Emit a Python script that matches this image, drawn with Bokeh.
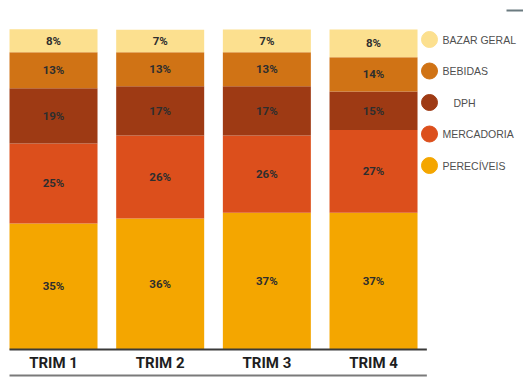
from bokeh.plotting import figure
from bokeh.models import ColumnDataSource, Range1d, BoxAnnotation
from bokeh.core.properties import value
from bokeh.embed import file_html
from bokeh.resources import INLINE

# ---------------- data ----------------
quarters = ["TRIM 1", "TRIM 2", "TRIM 3", "TRIM 4"]
# series, bottom to top
series = ["PERECÍVEIS", "MERCADORIA", "DPH", "BEBIDAS", "BAZAR GERAL"]

# printed percentages
perec_pct = [35, 36, 37, 37]
merc_pct = [25, 26, 26, 27]
dph_pct = [19, 17, 17, 15]
beb_pct = [13, 13, 13, 14]
bazar_pct = [8, 7, 7, 8]

# drawn segment heights (share of the bar, %)
perec_h = [39.4, 40.9, 42.7, 42.7]
merc_h = [25.0, 26.0, 24.2, 25.9]
dph_h = [17.2, 15.4, 15.4, 12.0]
beb_h = [11.3, 10.6, 10.6, 10.7]
bazar_h = [7.2, 7.0, 7.1, 8.7]

colors = ["#F4A600", "#DC4F1C", "#9E3A14", "#D07315", "#FCE08F"]

# ---------------- layout helpers (pixels -> data) ----------------
W, H = 523, 384
X0, X1 = 0.503, 5.406
Y0, Y1 = -10.94, 109.06


def px_x(px):
    return X0 + px * (X1 - X0) / W


def px_y(py):
    return Y1 - py * (Y1 - Y0) / H


# ---------------- build ----------------
heights = [perec_h, merc_h, dph_h, beb_h, bazar_h]
pcts = [perec_pct, merc_pct, dph_pct, beb_pct, bazar_pct]
keys = ["s%d" % i for i in range(len(series))]
xs = [i + 1 for i in range(len(quarters))]

data = {"x": xs}
for k, h in zip(keys, heights):
    data[k] = h
src = ColumnDataSource(data)

FONT = "Roboto"

p = figure(width=W, height=H,
           x_range=Range1d(X0, X1), y_range=Range1d(Y0, Y1),
           output_backend="svg", toolbar_location=None,
           min_border=0, min_border_left=0, min_border_right=0,
           min_border_top=0, min_border_bottom=0,
           outline_line_color=None, background_fill_color="white",
           border_fill_color="white")
p.axis.visible = False
p.grid.visible = False

bar_w = 0.825
p.vbar_stack(keys, x="x", width=bar_w, source=src,
             fill_color=colors, line_color=None)

# value labels centred in each segment
lx, ly, lt = [], [], []
base = [0.0] * len(quarters)
for h, pc in zip(heights, pcts):
    for i in range(len(quarters)):
        lx.append(xs[i])
        ly.append(base[i] + h[i] / 2)
        lt.append("%d%%" % pc[i])
        base[i] += h[i]
p.text(x=lx, y=ly, text=lt, text_align="center", text_baseline="middle",
       text_font=value(FONT), text_font_style="bold",
       text_font_size="11.5px", text_color="#2e2e2e")

# baseline and bottom rule
x_left = xs[0] - bar_w / 2
x_right = xs[-1] + 0.5
p.segment(x0=[x_left], y0=[0], x1=[x_right], y1=[0],
          line_color="#3a3a3a", line_width=2)
p.segment(x0=[x_left], y0=[px_y(375)], x1=[x_right], y1=[px_y(375)],
          line_color="#7a7a7a", line_width=2)

# category labels
p.text(x=xs, y=[px_y(362)] * len(xs), text=quarters, text_align="center",
       text_baseline="middle", text_font=value(FONT),
       text_font_style="bold", text_font_size="15px", text_color="#1e1e1e")

# legend (top to bottom: BAZAR GERAL ... PERECÍVEIS), drawn manually
leg_names = list(reversed(series))
leg_colors = list(reversed(colors))
leg_indent = [0, 0, 11, 0, 0]  # the reference indents the short "DPH" label
leg_y = [px_y(39 + 31.5 * i) for i in range(len(leg_names))]
p.scatter(x=[px_x(429)] * len(leg_names), y=leg_y, marker="circle", size=16,
          fill_color=leg_colors, line_color=leg_colors)
p.text(x=[px_x(442 + d) for d in leg_indent], y=leg_y, text=leg_names,
       text_align="left", text_baseline="middle",
       text_font=value("Liberation Sans"), text_font_size="10.5px",
       text_color="#4f4f4f")

# small grey dash in the top-right corner
p.add_layout(BoxAnnotation(left=px_x(506), right=px_x(523),
                           top=px_y(9), bottom=px_y(11),
                           fill_color="#6b7b80", fill_alpha=1,
                           line_color=None))

open("out.html", "w").write(file_html(p, INLINE))
